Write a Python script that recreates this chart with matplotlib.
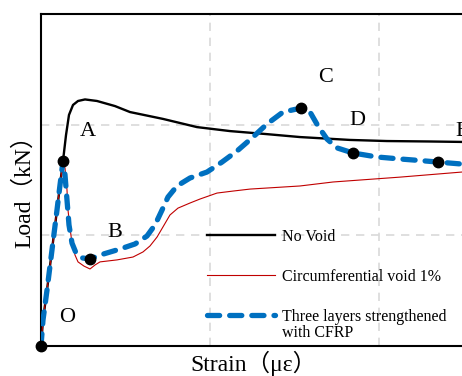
import matplotlib
matplotlib.use('Agg')
import matplotlib.pyplot as plt

plt.rcParams['font.family'] = ['Liberation Serif', 'Noto Sans CJK SC']

# No Void
strain_nv = [0, 59, 178, 325, 473, 562, 651, 740, 828, 947, 1095, 1302, 1657, 2189,
             2633, 3609, 4615, 5592, 6627, 7663, 9142, 10237, 11509, 12456, 12800]
load_nv = [0, 117, 253, 434, 614, 727, 836, 953, 1044, 1089, 1107, 1114, 1107, 1084,
           1057, 1026, 989, 971, 958, 944, 931, 926, 924, 922, 921]

# Circumferential void 1%
strain_void = [0, 59, 178, 325, 473, 562, 651, 710, 769, 799, 858, 917, 1006, 1095,
               1272, 1450, 1598, 1746, 2249, 2722, 3018, 3225, 3432, 3609, 3816, 4053,
               4408, 4704, 5207, 5681, 6184, 7663, 8639, 10621, 12456, 12800]
load_void = [0, 117, 253, 434, 614, 727, 836, 804, 705, 614, 533, 465, 411, 380,
             361, 348, 366, 380, 389, 402, 425, 452, 492, 538, 592, 623,
             646, 664, 691, 700, 709, 723, 741, 763, 786, 790]

# Three layers strengthened with CFRP
strain_cfrp = [0, 59, 178, 325, 473, 562, 651, 710, 769, 828, 917, 1036, 1213, 1450,
               1746, 2337, 2781, 3136, 3373, 3580, 3757, 4024, 4408, 4911, 5355, 5799,
               6243, 6686, 7160, 7693, 7959, 8195, 8462, 8758, 9231, 9941, 10621, 11213,
               11746, 12456, 12800]
load_cfrp = [0, 117, 253, 434, 614, 727, 836, 773, 660, 547, 465, 420, 398, 393,
             411, 438, 461, 497, 547, 614, 673, 723, 759, 786, 831, 881,
             940, 1003, 1057, 1075, 1057, 994, 935, 895, 872, 854, 845, 838,
             831, 822, 820]

# characteristic points
point_names = ['O', 'A', 'B', 'C', 'D', 'E']
point_strain = [0, 651, 1450, 7693, 9231, 11746]
point_load = [0, 836, 393, 1075, 872, 831]
label_strain = [769, 1391, 2189, 8432, 9349, 12456]
label_load = [131, 971, 515, 1215, 1017, 971]

W, H = 462, 376
fig = plt.figure(figsize=(W / 100, H / 100), dpi=100)
ax = fig.add_axes([41 / W, 30 / H, 507 / W, 332 / H])

ax.plot(strain_nv, load_nv, color='black', lw=1.7, label='No Void', zorder=3)
ax.plot(strain_void, load_void, color='#c00000', lw=0.8,
        label='Circumferential void 1%', zorder=4)
ax.plot(strain_cfrp, load_cfrp, color='#0070c0', lw=3.8, ls=(0, (2.3, 1.9)),
        dash_capstyle='round', label='Three layers strengthened', zorder=5)
ax.plot(point_strain, point_load, 'o', color='black', ms=7.5, zorder=6, clip_on=False)

for name, x, y in zip(point_names, label_strain, label_load):
    ax.text(x, y, name, fontsize=16, ha='center', va='center')

ax.set_xlim(0, 15000)
ax.set_ylim(0, 1500)
ax.set_xticks([5000, 10000])
ax.set_yticks([500, 1000])
ax.tick_params(length=0, labelleft=False, labelbottom=False)
ax.grid(True, color='#d9d9d9', lw=1.2, ls=(0, (5, 4)))
for s in ax.spines.values():
    s.set_linewidth(1.5)

ax.set_xlabel('Strain（με）', fontsize=17)
ax.xaxis.set_label_coords(213 / 507, -5 / 332)
ax.set_ylabel('Load（kN）', fontsize=17)
ax.yaxis.set_label_coords(-6 / 507, 160 / 332)

ax.legend(loc='upper left', bbox_to_anchor=(207 / W, 1 - 229 / H),
          bbox_transform=fig.transFigure, frameon=False, fontsize=11.5,
          borderpad=0, borderaxespad=0, handlelength=4.25, handletextpad=0.43,
          labelspacing=1.5)
# second line of the last legend label
fig.text(282 / W, 1 - 333 / H, 'with CFRP', fontsize=11.5, ha='left', va='center')

fig.savefig('out.png', dpi=100)
